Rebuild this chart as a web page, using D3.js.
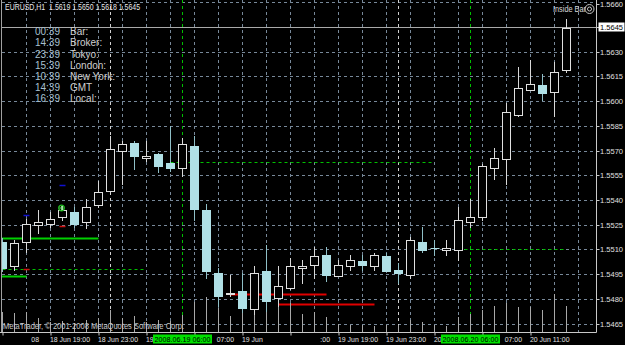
<!DOCTYPE html>
<html><head><meta charset="utf-8">
<script src="https://cdn.jsdelivr.net/npm/d3@7/dist/d3.min.js"></script>
<style>html,body{margin:0;padding:0;background:#000;overflow:hidden}</style>
</head><body>
<svg id="c" width="625" height="345"></svg>
<script>
// ---- data (EURUSD H1, 18 Jun 15:00 .. 20 Jun 14:00, 2008) ----
const headerText = "EURUSD,H1  1.5619 1.5650 1.5618 1.5645";
const open  = [1.5515,1.5500,1.5515,1.5525,1.5526,1.5530,1.5533,1.5527,1.5537,1.5546,1.5570,1.5575,1.5566,1.5568,1.5563,1.5560,
               1.5573,1.5534,1.5496,1.5483,1.5485,1.5474,1.5497,1.5481,1.5487,1.5499,1.5501,1.5507,1.5494,1.5500,1.5503,1.5500,
               1.5506,1.5498,1.5495,1.5515,1.5511,1.5510,1.5510,1.5527,1.5530,1.5560,1.5565,1.5592,1.5607,1.5610,1.5606,1.5619];
const high  = [1.5517,1.5516,1.5529,1.5534,1.5533,1.5537,1.5536,1.5541,1.5552,1.5579,1.5576,1.5576,1.5576,1.5569,1.5585,1.5578,
               1.5579,1.5538,1.5499,1.5495,1.5496,1.5500,1.5513,1.5500,1.5505,1.5504,1.5512,1.5512,1.5504,1.5507,1.5507,1.5508,
               1.5508,1.5502,1.5518,1.5524,1.5516,1.5516,1.5536,1.5541,1.5562,1.5572,1.5599,1.5621,1.5625,1.5617,1.5624,1.5650];
const low   = [1.5497,1.5498,1.5509,1.5520,1.5524,1.5528,1.5524,1.5523,1.5536,1.5544,1.5550,1.5559,1.5564,1.5557,1.5558,1.5555,
               1.5528,1.5493,1.5476,1.5482,1.5472,1.5471,1.5473,1.5476,1.5486,1.5490,1.5493,1.5491,1.5494,1.5498,1.5498,1.5498,
               1.5497,1.5490,1.5493,1.5509,1.5507,1.5507,1.5504,1.5524,1.5528,1.5553,1.5550,1.5591,1.5607,1.5601,1.5591,1.5618];
const close = [1.5499,1.5514,1.5526,1.5527,1.5529,1.5534,1.5526,1.5536,1.5545,1.5571,1.5574,1.5567,1.5567,1.5561,1.5560,1.5574,
               1.5535,1.5497,1.5482,1.5484,1.5475,1.5496,1.5479,1.5488,1.5500,1.5500,1.5506,1.5495,1.5501,1.5504,1.5501,1.5507,
               1.5497,1.5496,1.5516,1.5510,1.5511,1.5511,1.5528,1.5530,1.5561,1.5566,1.5594,1.5608,1.5611,1.5605,1.5618,1.5645];
const volume = [400,374,406,286,200,220,180,240,280,440,280,320,200,240,220,340,
                606,706,486,326,640,600,680,640,586,354,394,306,154,140,140,126,
                140,140,240,206,140,126,306,354,440,526,574,506,494,440,754,526];
const priceTicks = [1.5660,1.5645,1.5630,1.5615,1.5600,1.5585,1.5570,1.5555,1.5540,1.5525,1.5510,1.5495,1.5480,1.5465];
const lastPrice = 1.5645;
// visible parts of the time-scale labels (the rest is covered in the original)
const timeTickIdx  = [0,4,8,12,16,20,24,28,32,36,40,44];
const timeTickText = ["08","18 Jun 19:00","18 Jun 23:00","19","07:00","19 Jun",":00",
                      "19 Jun 19:00","19 Jun 23:00","20","07:00","20 Jun 11:00"];
const timeTickTail = [true,false,false,false,true,false,true,false,false,false,true,false];
const separatorIdx = [9, 33];
const markerIdx  = [15, 39];
const markerText = ["2008.06.19 06:00","2008.06.20 06:00"];
const infoTimes  = ["00:39","14:39","23:39","15:39","10:39","14:39","16:39"];
const infoLabels = ["Bar:","Broker:","Tokyo:","London:","New York:","GMT","Local:"];
const greenSolidPrice = [1.5517, 1.5494];
const greenSolidEnd   = [8, 2];
const greenDashPrice = [1.5498, 1.5563, 1.5510];
const greenDashStart = [-1, 14, 38];
const greenDashEnd   = [12, 36, 47];
const redPrice = [1.5483, 1.5477];
const redStart = [19, 23];
const redEnd   = [27, 31];
const sigIdx   = [2, 5, 5, 2];
const sigPrice = [1.5531, 1.5549, 1.5524, 1.5498];
const sigType  = ["up","up","down","down"];
const buyMarkIdx = 5, buyMarkPrice = 1.5536;

// ---- drawing ----
const FONT = "Liberation Sans, Arial, sans-serif";
const svg = d3.select("#c");
svg.append("rect").attr("width",625).attr("height",345).attr("fill","#000");
const x = d3.scaleLinear().domain([0, 47]).range([2.5, 566.5]);
const y = d3.scaleLinear().domain([1.5465, 1.5660]).range([324, 2.8]);
const volY = d3.scaleLinear().domain([0, 1000]).range([332, 282]);
const px = v => Math.floor(v) + 0.5;
const PL = 2, PR = 596.5, PB = 332.5;

svg.append("defs").append("clipPath").attr("id","plot")
  .append("rect").attr("x",PL).attr("y",0).attr("width",PR-PL).attr("height",PB);
const g = svg.append("g").attr("clip-path","url(#plot)");

// grid
g.selectAll(".hg").data(priceTicks).join("line")
  .attr("x1",PL).attr("x2",PR).attr("y1",d=>px(y(d))).attr("y2",d=>px(y(d)))
  .attr("stroke","#778899").attr("stroke-dasharray","3,3");
g.selectAll(".vg").data(d3.range(2, 49, 2)).join("line")
  .attr("x1",d=>x(d)).attr("x2",d=>x(d)).attr("y1",0).attr("y2",PB)
  .attr("stroke","#778899").attr("stroke-dasharray","3,3");
g.selectAll(".sep").data(separatorIdx).join("line")
  .attr("x1",d=>x(d)).attr("x2",d=>x(d)).attr("y1",0).attr("y2",PB)
  .attr("stroke","#d0d0d0").attr("stroke-dasharray","3,3");
g.selectAll(".mk").data(markerIdx).join("line")
  .attr("x1",d=>x(d)).attr("x2",d=>x(d)).attr("y1",0).attr("y2",PB)
  .attr("stroke","#00c000").attr("stroke-dasharray","3,3");

// indicator levels
g.selectAll(".gs").data(greenSolidPrice).join("line")
  .attr("x1",PL).attr("x2",(d,i)=>x(greenSolidEnd[i]))
  .attr("y1",d=>px(y(d))).attr("y2",d=>px(y(d)))
  .attr("stroke","#00d000").attr("stroke-width",2);
g.selectAll(".gd").data(greenDashPrice).join("line")
  .attr("x1",(d,i)=>x(greenDashStart[i])).attr("x2",(d,i)=>x(greenDashEnd[i]))
  .attr("y1",d=>px(y(d))).attr("y2",d=>px(y(d)))
  .attr("stroke","#00c000").attr("stroke-dasharray","3,3");
g.selectAll(".rd").data(redPrice).join("line")
  .attr("x1",(d,i)=>x(redStart[i])).attr("x2",(d,i)=>x(redEnd[i]))
  .attr("y1",d=>px(y(d))).attr("y2",d=>px(y(d)))
  .attr("stroke","#e00000").attr("stroke-width",2);

// bid line
g.append("line").attr("x1",0).attr("x2",PR).attr("y1",px(y(lastPrice))).attr("y2",px(y(lastPrice)))
  .attr("stroke","#a9a9a9");

// volumes
g.selectAll(".vol").data(volume).join("line")
  .attr("x1",(d,i)=>x(i)).attr("x2",(d,i)=>x(i))
  .attr("y1",volY(0)).attr("y2",d=>Math.round(volY(d)))
  .attr("stroke","#a8a8a8");

// candles
const idx = d3.range(open.length);
const isUp = i => close[i] > open[i];
g.selectAll(".wick").data(idx).join("line")
  .attr("x1",i=>x(i)).attr("x2",i=>x(i))
  .attr("y1",i=>Math.round(y(high[i]))).attr("y2",i=>Math.round(y(low[i]))+1)
  .attr("stroke",i=>isUp(i) ? "#d8d8d8" : "#8fbfc7");
idx.forEach(i=>{
  const t = Math.round(y(Math.max(open[i],close[i])));
  const b = Math.round(y(Math.min(open[i],close[i])));
  const up = isUp(i);
  if (b - t < 1) {
    g.append("line").attr("x1",x(i)-4).attr("x2",x(i)+5).attr("y1",t+0.5).attr("y2",t+0.5)
      .attr("stroke", up ? "#e0e0e0" : "#b0e0e6");
  } else {
    g.append("rect").attr("x",x(i)-4).attr("y",t+0.5).attr("width",8).attr("height",b-t)
      .attr("fill", up ? "#000" : "#b0e0e6").attr("stroke", up ? "#e0e0e0" : "#b0e0e6");
  }
});

// signals
g.selectAll(".sig").data(sigIdx).join("line")
  .attr("x1",d=>x(d)-3).attr("x2",d=>x(d)+3)
  .attr("y1",(d,i)=>px(y(sigPrice[i]))).attr("y2",(d,i)=>px(y(sigPrice[i])))
  .attr("stroke",(d,i)=>sigType[i]==="up" ? "#1010d0" : "#d01010").attr("stroke-width",1.5);
const bm = g.append("g").attr("transform",`translate(${x(buyMarkIdx)-1},${Math.round(y(buyMarkPrice))+1})`);
bm.append("circle").attr("r",2.8).attr("fill","none").attr("stroke","#20c020").attr("stroke-width",1.3);
bm.append("path").attr("d","M-2,0H2M0,-2V2").attr("stroke","#80e080");

// frame
svg.append("line").attr("x1",1.5).attr("x2",1.5).attr("y1",0).attr("y2",PB).attr("stroke","#a0a0a0");
svg.append("line").attr("x1",0).attr("x2",PR).attr("y1",PB).attr("y2",PB).attr("stroke","#c8c8c8");
svg.append("line").attr("x1",PR).attr("x2",PR).attr("y1",0).attr("y2",PB).attr("stroke","#c8c8c8");

// price axis
const ya = svg.append("g").attr("transform",`translate(${PR},0.5)`)
  .call(d3.axisRight(y).tickValues(priceTicks).tickFormat(d3.format(".4f")).tickSize(3));
ya.select(".domain").remove();
ya.selectAll(".tick").attr("transform",d=>`translate(0,${Math.max(4, Math.floor(y(d)))})`);
ya.selectAll(".tick line").attr("stroke","#c8c8c8");
ya.selectAll(".tick text").attr("x",3.5).attr("fill","#e0e0e0")
  .attr("font-family",FONT).attr("font-size",8)
  .attr("textLength",23).attr("lengthAdjust","spacingAndGlyphs");
const cp = svg.append("g").attr("transform",`translate(0,${Math.floor(y(lastPrice))})`);
cp.append("rect").attr("x",598.5).attr("y",-4.5).attr("width",26).attr("height",9).attr("fill","#fff");
cp.append("text").attr("x",600).attr("y",3).text(d3.format(".4f")(lastPrice)).attr("fill","#000")
  .attr("font-family",FONT).attr("font-size",8)
  .attr("textLength",23).attr("lengthAdjust","spacingAndGlyphs");

// time axis
const xa = svg.append("g").attr("transform",`translate(0,${PB})`)
  .call(d3.axisBottom(x).tickValues(timeTickIdx).tickFormat((d,i)=>timeTickText[i]).tickSize(3));
xa.select(".domain").remove();
xa.selectAll(".tick line").attr("stroke","#c8c8c8");
const AX_FS = 7.5;
const probe = svg.append("text").attr("font-family",FONT).attr("font-size",AX_FS).text("18 Jun 19:00");
const squeeze = 40 / probe.node().getComputedTextLength();
probe.remove();
xa.selectAll(".tick text")
  .attr("fill","#e0e0e0").attr("y",3.5).attr("dy","0.75em")
  .attr("font-family",FONT).attr("font-size",AX_FS)
  .attr("text-anchor",(d,i)=> timeTickTail[i] ? "end" : "start")
  .attr("x",(d,i)=> timeTickTail[i] ? (i===0 ? 36 : 39) : -1)
  .each(function(){ const w = this.getComputedTextLength();
    d3.select(this).attr("textLength", w*squeeze).attr("lengthAdjust","spacingAndGlyphs"); });
markerIdx.forEach((m,i)=>{
  svg.append("rect").attr("x",x(m)-29.5).attr("y",334.5).attr("width",59).attr("height",9).attr("fill","#00e000");
  svg.append("text").attr("x",x(m)).attr("y",341.8).attr("text-anchor","middle").text(markerText[i])
    .attr("fill","#000").attr("font-family",FONT).attr("font-size",7.2);
});

// header
svg.append("text").attr("x",5).attr("y",9.5).text(headerText).attr("fill","#e8e8e8")
  .attr("font-family",FONT).attr("font-size",8.5)
  .attr("textLength",135).attr("lengthAdjust","spacingAndGlyphs").attr("xml:space","preserve");
// info block
const info = svg.append("g").attr("font-family",FONT).attr("font-size",10);
info.selectAll(".it").data(infoTimes).join("text")
  .attr("x",60).attr("y",(d,i)=>35.3+i*11.1).attr("text-anchor","end").attr("fill","#a8c0d0").text(d=>d);
info.selectAll(".il").data(infoLabels).join("text")
  .attr("x",70).attr("y",(d,i)=>35.3+i*11.1).attr("fill","#cfcfcf").text(d=>d);
// inside bar label
svg.append("text").attr("x",553).attr("y",12).text("Inside Bar").attr("fill","#d8d8d8")
  .attr("font-family",FONT).attr("font-size",9)
  .attr("textLength",33).attr("lengthAdjust","spacingAndGlyphs");
svg.append("circle").attr("cx",589.5).attr("cy",9).attr("r",4.5).attr("fill","none").attr("stroke","#c8c8c8");
svg.append("circle").attr("cx",589.5).attr("cy",9).attr("r",2).attr("fill","none").attr("stroke","#c8c8c8");
// copyright
svg.append("text").attr("x",3).attr("y",328.5).text("MetaTrader, © 2001-2008 MetaQuotes Software Corp.")
  .attr("fill","#c8c8c8").attr("font-family",FONT).attr("font-size",9)
  .attr("textLength",181).attr("lengthAdjust","spacingAndGlyphs");
</script>
</body></html>
